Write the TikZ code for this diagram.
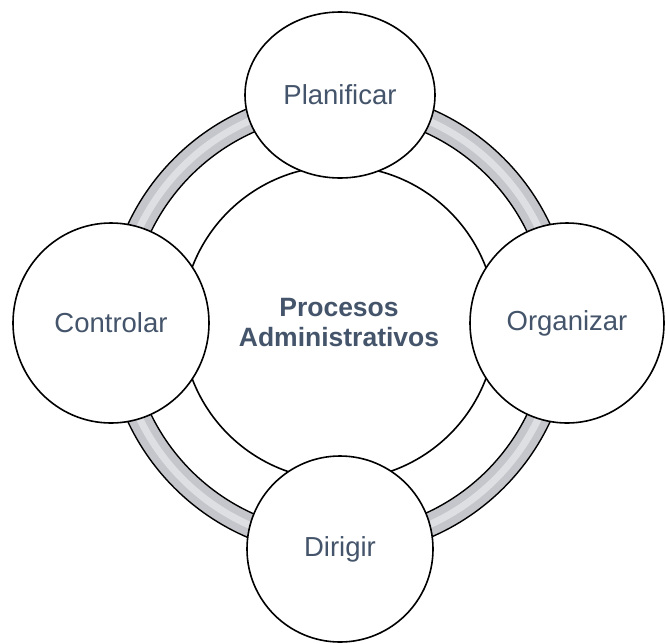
\documentclass[tikz,border=0pt]{standalone}
\usepackage{fontspec}
\setmainfont{Liberation Sans}
\usetikzlibrary{shapes.geometric}
\definecolor{textslate}{HTML}{44546A}
\definecolor{ringgray}{HTML}{C4C6CB}

\tikzset{
	stage/.style={ellipse, draw=black, line width=1.6pt, fill=white, inner sep=0pt, text=textslate, font=\fontsize{27.5}{30}\selectfont},
	hub/.style={circle, draw=black, line width=1.6pt, fill=white, inner sep=0pt, minimum size=314pt, text=textslate, align=center, font=\fontsize{26.5}{30}\selectfont\bfseries}
}

\begin{document}
\begin{tikzpicture}[x=1pt, y=-1pt]
		\useasboundingbox (0,0) rectangle (666,643);
		\coordinate (c) at (339,323);
		% ring under the circles
		\fill[ringgray, even odd rule] (c) circle (233) (c) circle (209);
		\draw[white, opacity=0.45, line width=7pt] (c) circle (221);
		\draw[line width=1.4pt] (c) circle (233) (c) circle (209);
		\node[hub] (proc) at (c) {Procesos\\Administrativos};
		\foreach \n/\x/\y/\w/\h/\t in {plan/340/95/190/166/Planificar, org/567/323/194/200/Organizar, dir/340/549/186/186/Dirigir, ctrl/111/323/196/200/Controlar}{
				\node[stage, minimum width=\w pt, minimum height=\h pt] (\n) at (\x,\y) {\t};
			}
	\end{tikzpicture}
\end{document}
